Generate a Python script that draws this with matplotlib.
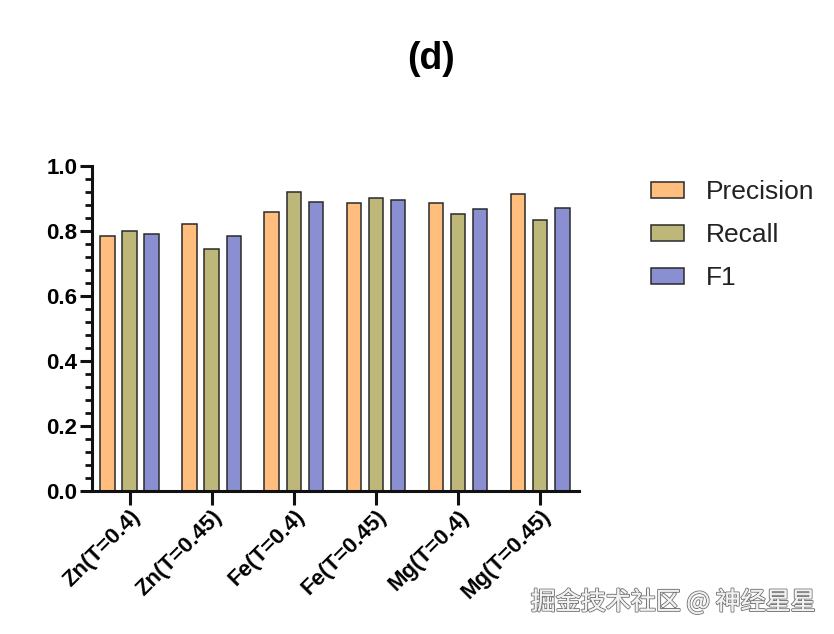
import matplotlib
matplotlib.use("Agg")
import matplotlib.pyplot as plt
import matplotlib.patheffects as pe
from matplotlib.ticker import MultipleLocator, FormatStrFormatter
import numpy as np

categories = ["Zn(T=0.4)", "Zn(T=0.45)", "Fe(T=0.4)", "Fe(T=0.45)", "Mg(T=0.4)", "Mg(T=0.45)"]
precision = [0.784, 0.823, 0.858, 0.887, 0.885, 0.913]
recall = [0.800, 0.745, 0.920, 0.901, 0.852, 0.834]
f1 = [0.791, 0.784, 0.888, 0.895, 0.868, 0.871]
series_names = ["Precision", "Recall", "F1"]
colors = ["#FFBE7D", "#BDB87A", "#8A8FD2"]

plt.rcParams['font.family'] = ['Liberation Sans', 'DejaVu Sans']

fig = plt.figure(figsize=(8.34, 6.34), dpi=100)
ax = fig.add_axes([0.110, 0.226, 0.584, 0.512])

x = np.arange(len(categories))
w = 0.176
off = 0.27
for i, (vals, name, c) in enumerate(zip([precision, recall, f1], series_names, colors)):
    ax.bar(x + (i - 1) * off, vals, width=w, color=c, edgecolor="#2a2a2a",
           linewidth=1.1, label=name, zorder=2)

ax.set_xlim(-0.46, 5.47)
ax.set_ylim(0, 1.0)
ax.yaxis.set_major_locator(MultipleLocator(0.2))
ax.yaxis.set_minor_locator(MultipleLocator(0.04))
ax.yaxis.set_major_formatter(FormatStrFormatter('%.1f'))

for s in ["top", "right"]:
    ax.spines[s].set_visible(False)
for s in ["left", "bottom"]:
    ax.spines[s].set_linewidth(2.2)
    ax.spines[s].set_color("#111111")

ax.tick_params(axis='y', which='major', length=8.5, width=2.2, direction='out',
               labelsize=16, pad=2, color="#111111")
ax.tick_params(axis='y', which='minor', length=5, width=2.0, direction='out', color="#111111")
ax.tick_params(axis='x', which='major', length=10, width=2.2, direction='out', color="#111111",
               labelsize=16, pad=1)
ax.set_xticks(x)
ax.set_xticklabels(categories, rotation=45, ha='right', rotation_mode='anchor', fontweight='bold')
for lab in ax.get_yticklabels():
    lab.set_fontweight('bold')

fig.text(0.517, 0.907, "(d)", ha='center', va='center', fontsize=27, fontweight='bold')

leg = ax.legend(loc='upper left', bbox_to_anchor=(0.781, 0.716), bbox_transform=fig.transFigure,
                frameon=False, fontsize=19, handlelength=1.25, handleheight=0.55,
                labelspacing=0.72, handletextpad=0.8, borderaxespad=0, borderpad=0)
for t in leg.get_texts():
    t.set_color("#222222")

wm = fig.text(0.978, 0.050, "掘金技术社区 @ 神经星星", ha='right', va='center', fontsize=18,
              color='#f2f2f2', family=['Noto Sans CJK SC', 'DejaVu Sans'])
wm.set_path_effects([pe.withStroke(linewidth=1.5, foreground='#7a7a7a'), pe.Normal()])

fig.savefig("out.png", dpi=100)
